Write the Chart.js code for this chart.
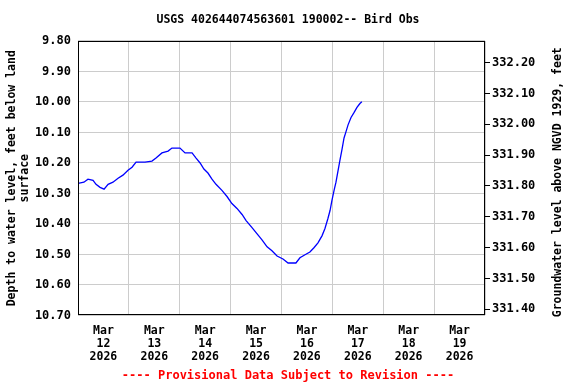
<!DOCTYPE html>
<html>
<head>
<meta charset="utf-8">
<script src="https://cdn.jsdelivr.net/npm/chart.js@4"></script>
<style>
  html, body { margin: 0; padding: 0; background: #fff; }
  #wrap { width: 576px; height: 384px; }
</style>
</head>
<body>
<div id="wrap"><canvas id="gwChart" width="576" height="384"></canvas></div>
<script>
// hours since Mar 12 2026 00:00
const hours = [0, 2.8, 4.7, 7.1, 8.5, 10.4, 12.3, 14.2, 16.5, 18.9, 21.2, 23.6, 25.5, 27.4, 31.6, 34.9,
  36.8, 39.6, 42.5, 44.3, 48.1, 50.5, 53.8, 55.7, 57.6, 59.4, 61.3, 63.2, 65.1, 67.9, 70.3, 72.6,
  75.0, 77.4, 79.3, 82.1, 84.4, 86.8, 89.2, 91.5, 93.9, 96.7, 99.1, 100.0, 102.8, 104.7, 107.1,
  109.4, 111.3, 113.2, 115.1, 116.5, 117.9, 118.9, 119.8, 120.8, 121.7, 122.7, 123.6, 124.5,
  125.5, 126.4, 127.4, 128.8, 130.2, 131.6, 133.0, 133.9];
// depth to water, feet below land surface
const depth = [10.267, 10.263, 10.253, 10.257, 10.270, 10.280, 10.286, 10.270, 10.263, 10.250, 10.240,
  10.224, 10.214, 10.197, 10.197, 10.194, 10.184, 10.167, 10.161, 10.151, 10.151, 10.167, 10.167,
  10.184, 10.200, 10.220, 10.233, 10.253, 10.270, 10.290, 10.310, 10.333, 10.349, 10.369, 10.389,
  10.412, 10.432, 10.452, 10.475, 10.488, 10.505, 10.515, 10.528, 10.528, 10.528, 10.511, 10.501,
  10.492, 10.478, 10.462, 10.439, 10.415, 10.382, 10.356, 10.323, 10.290, 10.263, 10.224, 10.190,
  10.157, 10.118, 10.098, 10.075, 10.051, 10.035, 10.018, 10.005, 9.999];

const dayLabels = ['12', '13', '14', '15', '16', '17', '18', '19'];
const depthTicks = [9.8, 9.9, 10.0, 10.1, 10.2, 10.3, 10.4, 10.5, 10.6, 10.7];
const elevTicks = [331.4, 331.5, 331.6, 331.7, 331.8, 331.9, 332.0, 332.1, 332.2];
const hourTicks = [0, 12, 24, 36, 48, 60, 72, 84, 96, 108, 120, 132, 144, 156, 168, 180, 192];
const rightTitle = 'Groundwater level above NGVD 1929, feet';

const mono = 'DejaVu Sans Mono';
const boldFont = (size) => ({ family: mono, size, weight: 'bold', lineHeight: 1.13 });

// black frame round the plot, plus the right axis title read bottom-to-top
const framePlugin = {
  id: 'frame',
  afterDraw(chart) {
    const { ctx, chartArea: a } = chart;
    ctx.save();
    ctx.strokeStyle = '#000';
    ctx.lineWidth = 1;
    ctx.strokeRect(Math.round(a.left) + 0.5, Math.round(a.top) + 0.5,
      Math.round(a.right - a.left) - 1, Math.round(a.bottom - a.top) - 1);
    ctx.translate(558, (a.top + a.bottom) / 2 + 4);
    ctx.rotate(-Math.PI / 2);
    ctx.font = 'bold 11.5px "' + mono + '"';
    ctx.fillStyle = '#000';
    ctx.textAlign = 'center';
    ctx.textBaseline = 'middle';
    ctx.fillText(rightTitle, 0, 0);
    ctx.restore();
  }
};

const points = hours.map((h, i) => ({ x: h, y: depth[i] }));

new Chart(document.getElementById('gwChart').getContext('2d'), {
  type: 'line',
  data: {
    datasets: [{
      data: points,
      borderColor: '#0000ff',
      borderWidth: 1.3,
      pointRadius: 0,
      fill: false,
      tension: 0
    }]
  },
  options: {
    responsive: false,
    animation: false,
    layout: { padding: 0 },
    plugins: {
      legend: { display: false },
      tooltip: { enabled: false },
      title: {
        display: true,
        text: 'USGS 402644074563601 190002-- Bird Obs',
        color: '#000',
        font: boldFont(11.5),
        padding: { top: 13.5, bottom: 14.5 }
      },
      subtitle: {
        display: true,
        position: 'bottom',
        text: '---- Provisional Data Subject to Revision ----',
        color: '#ff0000',
        font: boldFont(12),
        padding: { top: 4, bottom: 1.5 }
      }
    },
    scales: {
      x: {
        type: 'linear',
        min: 0,
        max: 192,
        afterBuildTicks: (s) => { s.ticks = hourTicks.map(v => ({ value: v })); },
        afterFit: (s) => { s.height = 49.5; },
        border: { display: false },
        grid: {
          color: (c) => (c.tick && c.tick.value % 24 === 0) ? '#cccccc' : 'rgba(0,0,0,0)',
          drawTicks: false
        },
        ticks: {
          autoSkip: false,
          maxRotation: 0,
          padding: 9,
          color: '#000',
          font: boldFont(11.5),
          callback: (v) => (v % 24 === 12) ? ['Mar', dayLabels[(v - 12) / 24], '2026'] : ''
        }
      },
      y: {
        position: 'left',
        reverse: true,
        min: 9.8,
        max: 10.7,
        afterBuildTicks: (s) => { s.ticks = depthTicks.map(v => ({ value: v })); },
        afterFit: (s) => { s.width = 78; },
        border: { display: false },
        grid: { color: '#cccccc', drawTicks: false },
        ticks: {
          padding: 7,
          color: '#000',
          font: boldFont(12),
          callback: (v) => v.toFixed(2)
        },
        title: {
          display: true,
          text: ['Depth to water level, feet below land', 'surface'],
          color: '#000',
          font: boldFont(11.5),
          padding: { top: 5.5, bottom: 0 }
        }
      },
      y2: {
        position: 'right',
        min: 331.38,
        max: 332.27,
        afterBuildTicks: (s) => { s.ticks = elevTicks.map(v => ({ value: v })); },
        afterFit: (s) => { s.width = 91; },
        border: { display: false },
        grid: { drawOnChartArea: false, color: '#000', tickLength: 5 },
        ticks: {
          padding: 2,
          color: '#000',
          font: boldFont(12),
          callback: (v) => v.toFixed(2)
        }
      }
    }
  },
  plugins: [framePlugin]
});
</script>
</body>
</html>
